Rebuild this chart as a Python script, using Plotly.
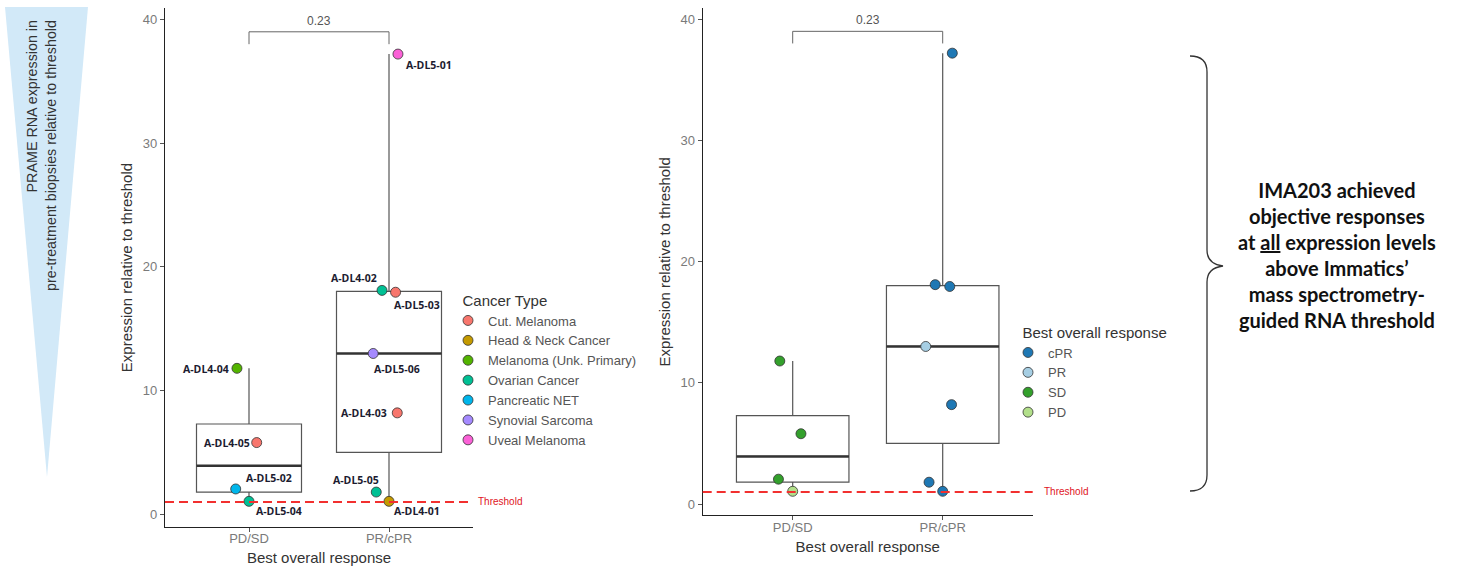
import numpy as np
import plotly.graph_objects as go

# ---------------- data ----------------
groups = ["PD/SD", "PR/cPR"]
patients = ["A-DL4-04", "A-DL4-05", "A-DL5-02", "A-DL5-04",
            "A-DL5-01", "A-DL4-02", "A-DL5-03", "A-DL5-06", "A-DL4-03", "A-DL5-05", "A-DL4-01"]
patient_group = ["PD/SD", "PD/SD", "PD/SD", "PD/SD",
                 "PR/cPR", "PR/cPR", "PR/cPR", "PR/cPR", "PR/cPR", "PR/cPR", "PR/cPR"]
expression = [11.8, 5.8, 2.05, 1.05,
              37.2, 18.1, 17.95, 13.0, 8.2, 1.8, 1.05]
cancer_type = ["Melanoma (Unk. Primary)", "Cut. Melanoma", "Pancreatic NET", "Ovarian Cancer",
               "Uveal Melanoma", "Ovarian Cancer", "Cut. Melanoma", "Synovial Sarcoma",
               "Cut. Melanoma", "Ovarian Cancer", "Head & Neck Cancer"]
best_response = ["SD", "SD", "SD", "PD",
                 "cPR", "cPR", "cPR", "PR", "cPR", "cPR", "cPR"]
cancer_types = ["Cut. Melanoma", "Head & Neck Cancer", "Melanoma (Unk. Primary)", "Ovarian Cancer",
                "Pancreatic NET", "Synovial Sarcoma", "Uveal Melanoma"]
responses = ["cPR", "PR", "SD", "PD"]
threshold = 1.0
p_value = "0.23"
y_ticks = [0, 10, 20, 30, 40]

# ---------------- styling / layout helpers ----------------
W, H = 1461, 570
cancer_colors = ["#F8766D", "#C49A00", "#53B400", "#00C094", "#00B6EB", "#A58AFF", "#FB61D7"]
response_colors = ["#1F78B4", "#A6CEE3", "#33A02C", "#B2DF8A"]
# horizontal jitter (category units) reproduced from the picture
jitter = [-0.086, 0.055, -0.095, 0.0, 0.064, -0.05, 0.047, -0.113, 0.059, -0.091, 0.0]
# label offsets in pixels (dx right, dy down)
label_offsets = {
    "A-DL4-04": (-31, 1), "A-DL4-05": (-30, 0), "A-DL5-02": (33, -11), "A-DL5-04": (30, 10),
    "A-DL5-01": (31, 11), "A-DL4-02": (-28, -12), "A-DL5-03": (21, 13), "A-DL5-06": (24, 16),
    "A-DL4-03": (-33, 0), "A-DL5-05": (-20, -12), "A-DL4-01": (28, 10),
}

FONT = "Liberation Sans"
TICK_COL = "#7a7a7a"
TITLE_COL = "#333333"

gidx = {g: i + 1 for i, g in enumerate(groups)}
xpos = [gidx[g] + j for g, j in zip(patient_group, jitter)]


def box_stats(vals):
    v = np.array(vals, dtype=float)
    q1, med, q3 = np.percentile(v, [25, 50, 75])
    iqr = q3 - q1
    lf = v[v >= q1 - 1.5 * iqr].min()
    uf = v[v <= q3 + 1.5 * iqr].max()
    return q1, med, q3, lf, uf


fig = go.Figure()

# boxes on both panels
for xa, ya in (("x", "y"), ("x2", "y2")):
    for g in groups:
        vals = [e for e, pg in zip(expression, patient_group) if pg == g]
        q1, med, q3, lf, uf = box_stats(vals)
        c = gidx[g]
        fig.add_trace(go.Box(
            x=[c], q1=[q1], median=[med], q3=[q3], lowerfence=[lf], upperfence=[uf],
            width=0.75, whiskerwidth=0, boxpoints=False,
            fillcolor="white", line=dict(color="#555555", width=1.2),
            showlegend=False, hoverinfo="skip", xaxis=xa, yaxis=ya))
        fig.add_trace(go.Scatter(
            x=[c - 0.375, c + 0.375], y=[med, med], mode="lines",
            line=dict(color="#333333", width=2.4), showlegend=False,
            hoverinfo="skip", xaxis=xa, yaxis=ya))
    # significance bracket
    top = 39.0
    fig.add_trace(go.Scatter(
        x=[1, 1, 2, 2], y=[top - 1.0, top, top, top - 1.0], mode="lines",
        line=dict(color="#666666", width=1), showlegend=False, hoverinfo="skip",
        xaxis=xa, yaxis=ya))

# left panel points by cancer type
for ct, col in zip(cancer_types, cancer_colors):
    idx = [i for i, c in enumerate(cancer_type) if c == ct]
    fig.add_trace(go.Scatter(
        x=[xpos[i] for i in idx], y=[expression[i] for i in idx],
        mode="markers", name=ct, legend="legend",
        marker=dict(size=10, color=col, line=dict(color="#333333", width=0.8)),
        xaxis="x", yaxis="y"))

# right panel points by best response
for r, col in zip(responses, response_colors):
    idx = [i for i, c in enumerate(best_response) if c == r]
    fig.add_trace(go.Scatter(
        x=[xpos[i] for i in idx], y=[expression[i] for i in idx],
        mode="markers", name=r, legend="legend2",
        marker=dict(size=10, color=col, line=dict(color="#333333", width=0.8)),
        xaxis="x2", yaxis="y2"))

annotations = []
# patient labels on left panel
for p, x, y in zip(patients, xpos, expression):
    dx, dy = label_offsets[p]
    annotations.append(dict(
        x=x, y=y, xref="x", yref="y", text=f"<b>{p}</b>", showarrow=False,
        xshift=dx, yshift=-dy, xanchor="center", yanchor="middle",
        font=dict(family="Open Sans", size=10.5, color="#1c1c30")))

# p-values and threshold labels
for xr, yr, shift in (("x", "y", 3), ("x2", "y2", 9)):
    annotations.append(dict(
        x=1.5, y=39.0, xref=xr, yref=yr, text=p_value, showarrow=False,
        yanchor="bottom", yshift=2, font=dict(family=FONT, size=12, color="#555555")))
    annotations.append(dict(
        x=1, y=threshold, xref=f"{xr} domain", yref=yr, text="Threshold", showarrow=False,
        xanchor="left", xshift=shift, yanchor="middle",
        font=dict(family=FONT, size=10, color="#E0141E")))

# triangle text
annotations.append(dict(
    x=42 / W, y=1 - 156 / H, xref="paper", yref="paper",
    text="PRAME RNA expression in<br>pre-treatment biopsies relative to threshold",
    showarrow=False, textangle=-90, align="right", xanchor="center", yanchor="middle",
    font=dict(family=FONT, size=14.3, color="#333333")))

# right side message
annotations.append(dict(
    x=1337 / W, y=1 - 255 / H, xref="paper", yref="paper",
    text=("<b>IMA203 achieved<br>objective responses<br>at <u>all</u> expression levels<br>"
          "above Immatics’<br>mass spectrometry-<br>guided RNA threshold</b>"),
    showarrow=False, align="center", xanchor="center", yanchor="middle",
    font=dict(family="Lato", size=20, color="#111111")))


def px(x, y):
    return f"{x / W:.5f},{1 - y / H:.5f}"


shapes = [
    dict(type="path", xref="paper", yref="paper",
         path=f"M {px(5, 7)} L {px(88, 7)} L {px(47, 477)} Z",
         fillcolor="#D2E9F8", line=dict(width=0), layer="below"),
    dict(type="path", xref="paper", yref="paper",
         path=(f"M {px(1190, 56)} Q {px(1207, 56)} {px(1207, 72)} L {px(1207, 250)} "
               f"Q {px(1207, 264)} {px(1223, 266)} Q {px(1207, 268)} {px(1207, 282)} "
               f"L {px(1207, 475)} Q {px(1207, 491)} {px(1190, 491)}"),
         line=dict(color="#333333", width=1.3)),
]
for xr, yr in (("x", "y"), ("x2", "y2")):
    shapes.append(dict(type="line", xref=f"{xr} domain", yref=yr, x0=0, x1=1,
                       y0=threshold, y1=threshold,
                       line=dict(color="#F2302F", width=2, dash="9px,5px")))


def xaxis_cfg(domain, anchor):
    return dict(domain=domain, anchor=anchor, range=[0.4, 2.6], tickvals=[1, 2], ticktext=groups,
                showline=True, linecolor="#222222", linewidth=1.2, ticks="outside", ticklen=4,
                tickcolor="#555555", showgrid=False, zeroline=False, ticklabelstandoff=-4,
                tickfont=dict(family=FONT, size=13, color=TICK_COL),
                title=dict(text="Best overall response", standoff=7,
                           font=dict(family=FONT, size=15, color=TITLE_COL)))


def yaxis_cfg(domain, anchor, rng):
    return dict(domain=domain, anchor=anchor, range=rng, tickvals=y_ticks,
                showline=True, linecolor="#222222", linewidth=1.2, ticks="outside", ticklen=4,
                tickcolor="#555555", showgrid=False, zeroline=False,
                tickfont=dict(family=FONT, size=13, color=TICK_COL),
                title=dict(text="Expression relative to threshold", standoff=6,
                           font=dict(family=FONT, size=15, color=TITLE_COL)))


fig.update_layout(
    width=W, height=H, margin=dict(l=0, r=0, t=0, b=0),
    paper_bgcolor="white", plot_bgcolor="white",
    xaxis=xaxis_cfg([165 / W, 473 / W], "y"),
    yaxis=yaxis_cfg([1 - 526.7 / H, 1 - 8.3 / H], "x", [-1.0, 40.9]),
    xaxis2=xaxis_cfg([702.7 / W, 1032.7 / W], "y2"),
    yaxis2=yaxis_cfg([1 - 515.3 / H, 1 - 8.3 / H], "x2", [-0.93, 40.9]),
    legend=dict(x=448 / W, y=1 - 286 / H, xanchor="left", yanchor="top",
                title=dict(text="&nbsp;&nbsp;&nbsp;Cancer Type",
                           font=dict(family=FONT, size=15, color=TITLE_COL)),
                font=dict(family=FONT, size=13, color="#555555"), bgcolor="rgba(0,0,0,0)",
                tracegroupgap=0),
    legend2=dict(x=1008 / W, y=1 - 318 / H, xanchor="left", yanchor="top",
                 title=dict(text="&nbsp;&nbsp;&nbsp;Best overall response",
                            font=dict(family=FONT, size=15, color=TITLE_COL)),
                 font=dict(family=FONT, size=13, color="#555555"), bgcolor="rgba(0,0,0,0)",
                 tracegroupgap=0),
    annotations=annotations, shapes=shapes, showlegend=True,
)

fig.write_html("out.html", config={"displayModeBar": False},
               post_script="document.body.style.margin='0';")
